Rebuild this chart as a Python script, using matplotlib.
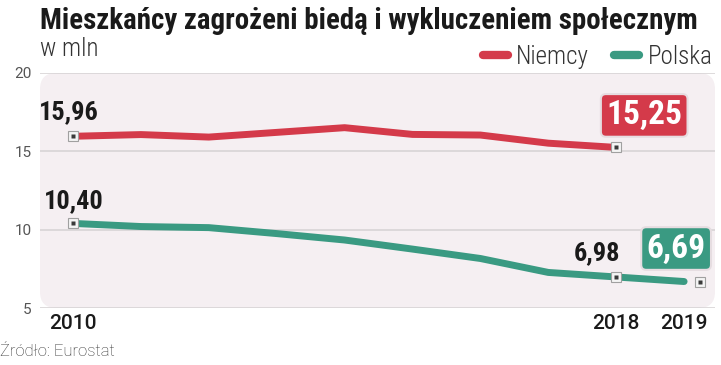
import matplotlib
matplotlib.use("Agg")
import matplotlib.pyplot as plt
from matplotlib.patches import FancyBboxPatch
import matplotlib.transforms as mtransforms

COND = ["Roboto Condensed", "DejaVu Sans"]
REG = ["Roboto", "DejaVu Sans"]

years = [2010, 2011, 2012, 2013, 2014, 2015, 2016, 2017, 2018, 2019]
niemcy = [15.96, 16.07, 15.91, 16.21, 16.51, 16.08, 16.04, 15.52, 15.25]
polska = [10.40, 10.20, 10.13, 9.75, 9.34, 8.76, 8.16, 7.27, 6.98, 6.69]
series_names = ["Niemcy", "Polska"]
y_ticks = [5, 10, 15, 20]
x_ticks = [2010, 2018, 2019]

RED = "#d43a4a"
TEAL = "#3a9a82"
BG = "#f5eff2"

fig = plt.figure(figsize=(7.21, 3.65), dpi=100)
fig.patch.set_facecolor("white")
ax = fig.add_axes([40/721, 57/365, 675/721, 235/365])
ax.set_facecolor("none")
ax.set_xlim(2009.514, 2019.455)
ax.set_ylim(5, 20)

bg = FancyBboxPatch((0, 0), 1, 1, boxstyle="round,pad=0,rounding_size=0.024",
                    mutation_aspect=675/235, transform=ax.transAxes,
                    facecolor=BG, edgecolor="none", zorder=0)
ax.add_patch(bg)
for s in ax.spines.values():
    s.set_visible(False)
ax.set_yticks(y_ticks)
ax.set_yticklabels([str(v) for v in y_ticks])
ax.grid(axis="y", color="#d8d4d6", linewidth=1.2, zorder=1)
ax.set_axisbelow(True)
ax.tick_params(axis="y", length=0, pad=6, labelsize=11, labelcolor="#555555")
for lab in ax.get_yticklabels():
    lab.set_fontfamily(REG)
ax.set_xticks(x_ticks)
ax.set_xticklabels([str(v) for v in x_ticks])
ax.tick_params(axis="x", length=0, pad=4, labelsize=15, labelcolor="#1a1a1a")
for lab in ax.get_xticklabels():
    lab.set_fontfamily(REG)
    lab.set_fontweight("medium")

ax.plot(years[:len(niemcy)], niemcy, color=RED, lw=5, solid_capstyle="round",
        solid_joinstyle="round", zorder=3, label=series_names[0])
ax.plot(years, polska, color=TEAL, lw=5, solid_capstyle="round",
        solid_joinstyle="round", zorder=3, label=series_names[1])

def marker(x, y, dx=0):
    tr = ax.transData + mtransforms.ScaledTranslation(dx/100, 0, fig.dpi_scale_trans)
    ax.plot([x], [y], marker="s", ms=7, mfc="#f4f4f4", mec="#a0a0a0", mew=0.8,
            transform=tr, zorder=5, clip_on=False)
    ax.plot([x], [y], marker="s", ms=3, mfc="#3a3a3a", mec="none",
            transform=tr, zorder=6, clip_on=False)

marker(years[0], niemcy[0])
marker(years[len(niemcy)-1], niemcy[-1])
marker(years[0], polska[0])
marker(years[8], polska[8])
marker(years[9], polska[9], dx=16)

def fmt(v):
    return f"{v:.2f}".replace(".", ",")

def label(x, y, dxpx, dypx, color="#1a1a1a"):
    ax.annotate(fmt(y), (x, y), xytext=(dxpx*0.72, dypx*0.72), textcoords="offset points",
                ha="center", va="center", fontsize=19, fontweight="bold",
                family=COND, color=color, zorder=7)

label(years[0], niemcy[0], -4, 24)
label(years[0], polska[0], 1, 22)
label(years[8], polska[8], -19, 24)

def boxlabel(x, y, dxpx, dypx, fc):
    ax.annotate(fmt(y), (x, y), xytext=(dxpx*0.72, dypx*0.72), textcoords="offset points",
                ha="center", va="center", fontsize=24, fontweight="bold",
                family=COND, color="white", zorder=8,
                bbox=dict(boxstyle="round,pad=0.16,rounding_size=0.15", fc=fc,
                          ec="#e6dde1", lw=1.5))

boxlabel(years[len(niemcy)-1], niemcy[-1], 28, 32, RED)
boxlabel(years[9], polska[9], -8, 33, TEAL)

fig.text(40/721, 1 - 21/365, "Mieszkańcy zagrożeni biedą i wykluczeniem społecznym",
         fontsize=20.8, fontweight="bold", family=COND, color="#1a1a1a",
         ha="left", va="center")
fig.text(40/721, 1 - 49/365, "w mln", fontsize=18, family=COND, fontweight="light",
         color="#333333", ha="left", va="center")
fig.text(0, 1 - 352/365, "Źródło: Eurostat", fontsize=12, family=REG,
         fontweight="light", color="#333333", ha="left", va="center")

leg = ax.legend(loc="center right", bbox_to_anchor=(713/721, 1 - 57/365),
                bbox_transform=fig.transFigure, ncol=2, frameon=False,
                borderaxespad=0, borderpad=0, handlelength=1.0, handletextpad=0.35,
                columnspacing=1.0, prop={"family": COND, "size": 18, "weight": "light"})
for t in leg.get_texts():
    t.set_color("#333333")
for h in leg.get_lines():
    h.set_linewidth(6)
    h.set_solid_capstyle("round")

fig.savefig("out.png", dpi=100)
